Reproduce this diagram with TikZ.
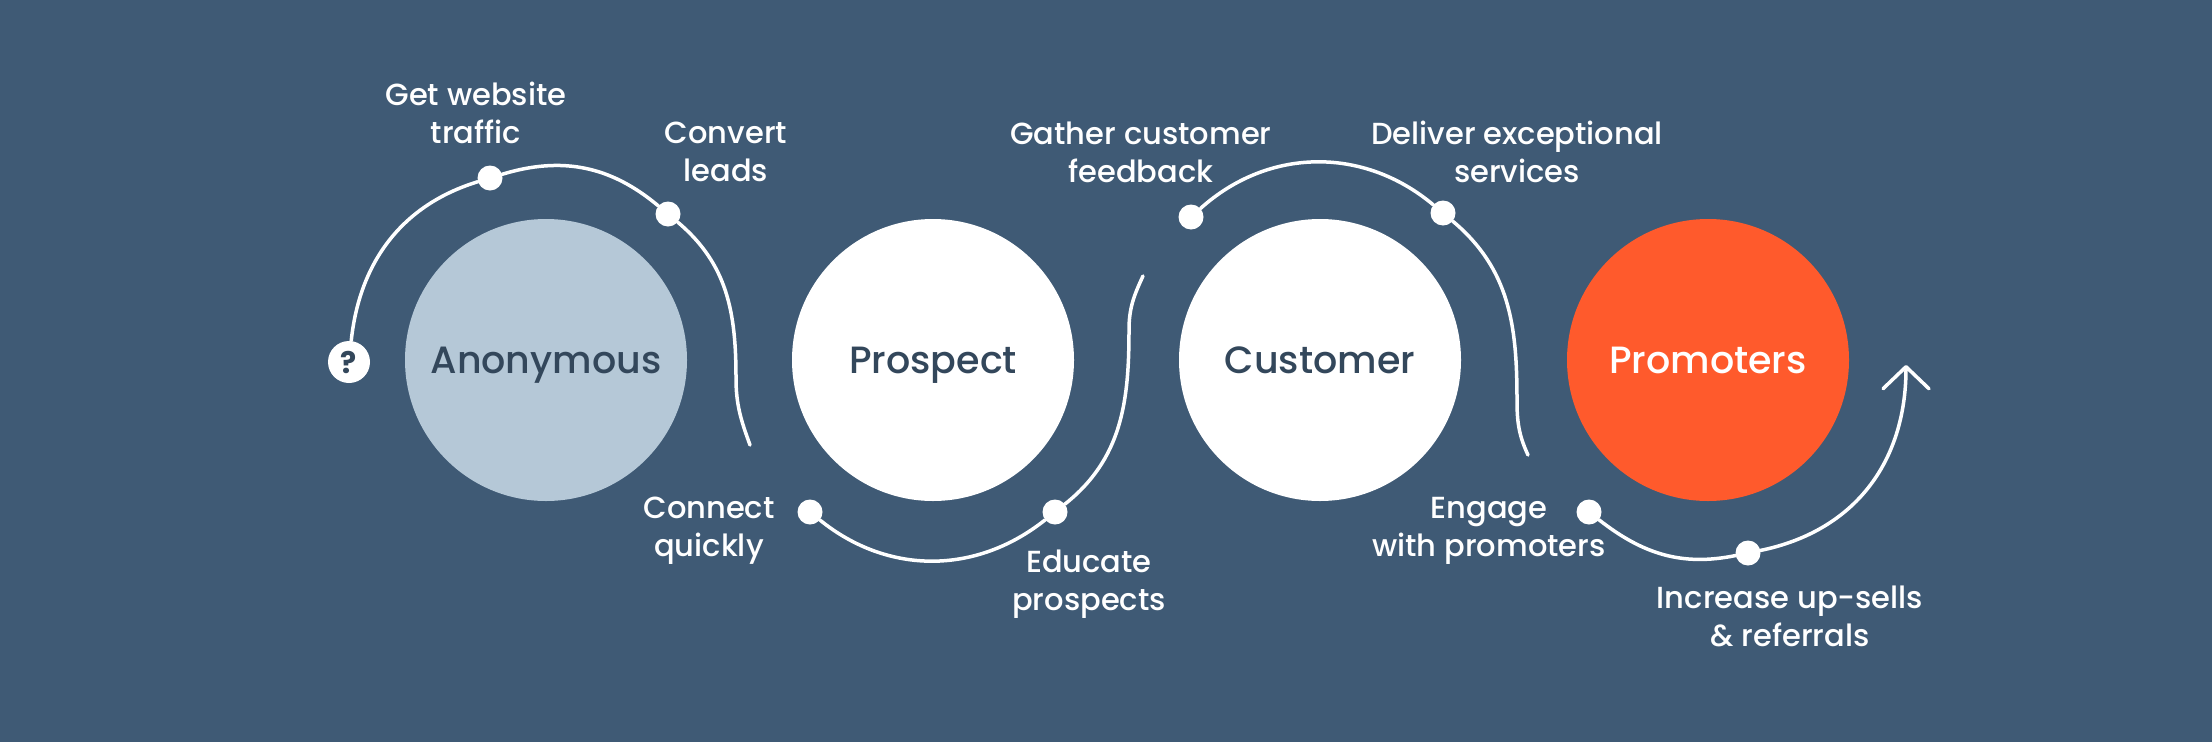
\documentclass[tikz,border=0pt]{standalone}
\usepackage{fontspec}
\setmainfont{Poppins}
\newfontfamily\medfont{Poppins Medium}
\usetikzlibrary{arrows.meta}
\definecolor{bg}{HTML}{3F5A75}
\definecolor{anon}{HTML}{B5C8D7}
\definecolor{ink}{HTML}{33475B}
\definecolor{promo}{HTML}{FF5A2C}
\begin{document}
\begin{tikzpicture}[x=1pt,y=-1pt,
  stage/.style={circle, minimum size=282pt, inner sep=0pt, text height=27pt, text depth=0pt,
    font=\medfont\fontsize{38}{44}\selectfont},
  dot/.style={circle, fill=white, minimum size=25pt, inner sep=0pt},
  lbl/.style={text=white, align=center, font=\medfont\fontsize{30.5}{38}\selectfont},
  flow/.style={draw=white, line width=3.5pt, line cap=round},
]
\fill[bg] (0,0) rectangle (2212,742);
\useasboundingbox (0,0) rectangle (2212,742);

% stages
\node[stage, fill=anon, text=ink] (anon) at (546,360) {Anonymous};
\node[stage, fill=white, text=ink] (prosp) at (933,360) {Prospect};
\node[stage, fill=white, text=ink] (cust) at (1320,360) {Customer};
\node[stage, fill=promo, text=white] (promo) at (1708,360) {Promoters};

% start marker
\node[circle, fill=white, minimum size=42pt, inner sep=0pt, text=ink,
      font=\fontsize{30}{30}\selectfont\bfseries] (q) at (349,362) {?};

% dots
\node[dot] (d1) at (490,178) {};
\node[dot] (d2) at (668,214) {};
\node[dot] (d3) at (810,512) {};
\node[dot] (d4) at (1055,512) {};
\node[dot] (d5) at (1191,217) {};
\node[dot] (d6) at (1443,213) {};
\node[dot] (d7) at (1589,512) {};
\node[dot] (d8) at (1748,553) {};

% free ends
\coordinate (m1) at (736,378);
\coordinate (e1) at (750,445);
\coordinate (m2) at (1129,330);
\coordinate (e2) at (1143,276);
\coordinate (m3) at (1517,400);
\coordinate (e3) at (1528,455);
\coordinate (tip) at (1906,365);

% connectors
\draw[flow] (q) to[out=84,in=197] (d1) to[out=17,in=140] (d2)
  to[out=-40,in=90] (m1) to[out=-90,in=110] (e1);
\draw[flow] (d3) to[out=-39,in=218.6] (d4) to[out=38.6,in=-90] (m2)
  to[out=90,in=-115] (e2);
\draw[flow] (d5) to[out=42,in=140] (d6) to[out=-40,in=90] (m3)
  to[out=-90,in=115] (e3);
\draw[flow, -{Straight Barb[length=22pt,width=46pt,round]}]
  (d7) to[out=-38,in=191.7] (d8) to[out=11.7,in=-90,looseness=1.05] (tip);

% labels
\node[lbl] (l1) at (476,113) {Get website\\traffic};
\node[lbl] (l2) at (726,152) {Convert\\leads};
\node[lbl] (l3) at (709,531) {Connect\\quickly};
\node[lbl] (l4) at (1089,584) {Educate\\prospects};
\node[lbl] (l5) at (1141,152) {Gather customer\\feedback};
\node[lbl] (l6) at (1517,152) {Deliver exceptional\\services};
\node[lbl] (l7) at (1489,531) {Engage\\with promoters};
\node[lbl] (l8) at (1790,616) {Increase up-sells\\\& referrals};
\end{tikzpicture}
\end{document}
